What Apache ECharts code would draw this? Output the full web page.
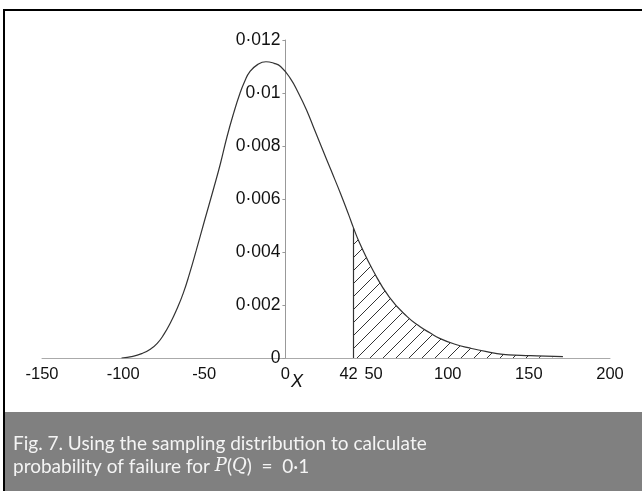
<!DOCTYPE html>
<html>
<head>
<meta charset="utf-8">
<script src="https://cdn.jsdelivr.net/npm/echarts@6/dist/echarts.min.js"></script>
<style>
  html, body { margin: 0; padding: 0; background: #fff; }
  #chart { width: 642px; height: 491px; }
</style>
</head>
<body>
<div id="chart"></div>
<script>
// Sampling distribution of X (density)
const curveX = [-101, -94, -88, -83, -79, -75, -71, -67, -63, -59, -55, -50, -44.5, -40, -36, -32, -28, -25, -22, -17, -12, -7, -3, 3, 8, 13, 18, 23, 28, 34, 39, 42, 46, 54, 64, 75, 83, 89, 95, 104, 114, 124, 134, 145, 155, 171];
const curveY = [0, 0.00006, 0.00018, 0.00034, 0.00055, 0.00088, 0.00131, 0.00183, 0.00244, 0.0032, 0.00405, 0.00515, 0.00634, 0.00735, 0.00835, 0.00922, 0.00999, 0.01045, 0.0108, 0.01108, 0.01118, 0.01112, 0.011, 0.01055, 0.01, 0.00936, 0.0086, 0.00785, 0.0071, 0.0062, 0.0054, 0.0049, 0.0043, 0.0033, 0.0023, 0.00156, 0.00118, 0.00095, 0.00074, 0.00053, 0.00037, 0.00024, 0.00014, 0.0001, 0.00008, 0.00005];

// Failure threshold: area to the right of it is hatched
const threshold = 42;

// Axis ticks and labels
const xMin = -150, xMax = 200;
const xTicks = [-150, -100, -50, 0, 42, 50, 100, 150, 200];
const yTickValues = [0, 0.002, 0.004, 0.006, 0.008, 0.01, 0.012];
const yTickLabels = ['0', '0·002', '0·004', '0·006', '0·008', '0·01', '0·012'];

const captionLine1 = 'Fig. 7. Using the sampling distribution to calculate';
const captionLine2 = 'probability of failure for ';

const curveData = curveX.map((x, i) => [x, curveY[i]]);
const tailData = curveData.filter(p => p[0] >= threshold);
const thresholdDensity = curveY[curveX.indexOf(threshold)];

// Plot area geometry
const gridLeft = 42, gridRight = 32, gridTop = 40, gridBottom = 133;
const plotWidth = 642 - gridLeft - gridRight;
// shift the y axis from the left edge of the plot to x = 0
const yAxisOffset = -plotWidth * (0 - xMin) / (xMax - xMin);

// Diagonal hatch pattern for the tail area
function hatchPattern(size) {
  const c = document.createElement('canvas');
  c.width = size; c.height = size;
  const g = c.getContext('2d');
  g.strokeStyle = '#333';
  g.lineWidth = 1;
  g.beginPath();
  g.moveTo(-1, size + 1); g.lineTo(size + 1, -1);
  g.moveTo(-1, 1); g.lineTo(1, -1);
  g.moveTo(size - 1, size + 1); g.lineTo(size + 1, size - 1);
  g.stroke();
  return c;
}

const chart = echarts.init(document.getElementById('chart'));
const axisFont = 'Liberation Sans, Arial, Helvetica, sans-serif';

chart.setOption({
  animation: false,
  backgroundColor: '#fff',
  grid: { left: gridLeft, right: gridRight, top: gridTop, bottom: gridBottom, containLabel: false },
  xAxis: {
    type: 'value',
    min: xMin,
    max: xMax,
    splitLine: { show: false },
    axisLine: { show: true, onZero: false, lineStyle: { color: '#aaa', width: 1 } },
    axisTick: { show: false },
    axisLabel: {
      customValues: xTicks,
      margin: 8,
      color: '#111',
      fontFamily: axisFont,
      fontSize: 16.5,
      formatter: function (v) {
        if (v === 42) return '{l|42}';
        if (v === 50) return '{r|50}';
        return String(v);
      },
      rich: {
        l: { padding: [0, 10, 0, 0], fontSize: 16.5, fontFamily: axisFont, color: '#111' },
        r: { padding: [0, 0, 0, 14], fontSize: 16.5, fontFamily: axisFont, color: '#111' }
      }
    }
  },
  yAxis: {
    type: 'value',
    min: 0,
    max: 0.012,
    interval: 0.002,
    offset: yAxisOffset,
    splitLine: { show: false },
    axisLine: { show: true, onZero: false, lineStyle: { color: '#999', width: 1 } },
    axisTick: { show: true, length: 3, lineStyle: { color: '#999' } },
    axisLabel: {
      margin: 5,
      color: '#111',
      fontFamily: axisFont,
      fontSize: 17.5,
      formatter: function (v) {
        const i = yTickValues.findIndex(t => Math.abs(t - v) < 1e-9);
        return i >= 0 ? yTickLabels[i] : '';
      }
    }
  },
  series: [
    {
      name: 'tail',
      type: 'line',
      data: tailData,
      smooth: 0.5,
      symbol: 'none',
      lineStyle: { width: 0 },
      areaStyle: { color: { image: hatchPattern(13), repeat: 'repeat' }, opacity: 1 },
      markLine: {
        silent: true,
        symbol: ['none', 'none'],
        label: { show: false },
        lineStyle: { color: '#333', width: 1.2, type: 'solid' },
        data: [[{ coord: [threshold, 0] }, { coord: [threshold, thresholdDensity] }]]
      },
      z: 1
    },
    {
      name: 'density',
      type: 'line',
      data: curveData,
      smooth: 0.5,
      symbol: 'none',
      lineStyle: { color: '#333', width: 1.2 },
      z: 3
    }
  ],
  graphic: [
    // frame lines along the top and left
    { type: 'rect', shape: { x: 4, y: 9, width: 638, height: 2 }, style: { fill: '#000' } },
    { type: 'rect', shape: { x: 3, y: 9, width: 2, height: 482 }, style: { fill: '#000' } },
    // axis name
    { type: 'text', x: 291, y: 373, style: { text: 'X', font: 'italic 18px "Liberation Sans", Arial, sans-serif', fill: '#111' } },
    // caption panel
    { type: 'rect', shape: { x: 5, y: 412, width: 637, height: 79 }, style: { fill: '#808080' } },
    {
      type: 'text', x: 13, y: 432,
      style: {
        text: '{n|' + captionLine1 + '}\n{n|' + captionLine2 + '}{i|P}{n|(}{i|Q}{n|)  =  0·1}',
        rich: {
          n: { fontFamily: 'Lato, "Open Sans", sans-serif', fontSize: 19, fill: '#f4f4f4', lineHeight: 23 },
          i: { fontFamily: '"DejaVu Serif", "Liberation Serif", serif', fontStyle: 'italic', fontSize: 18, fill: '#f4f4f4', lineHeight: 23 }
        }
      }
    }
  ]
});
</script>
</body>
</html>
